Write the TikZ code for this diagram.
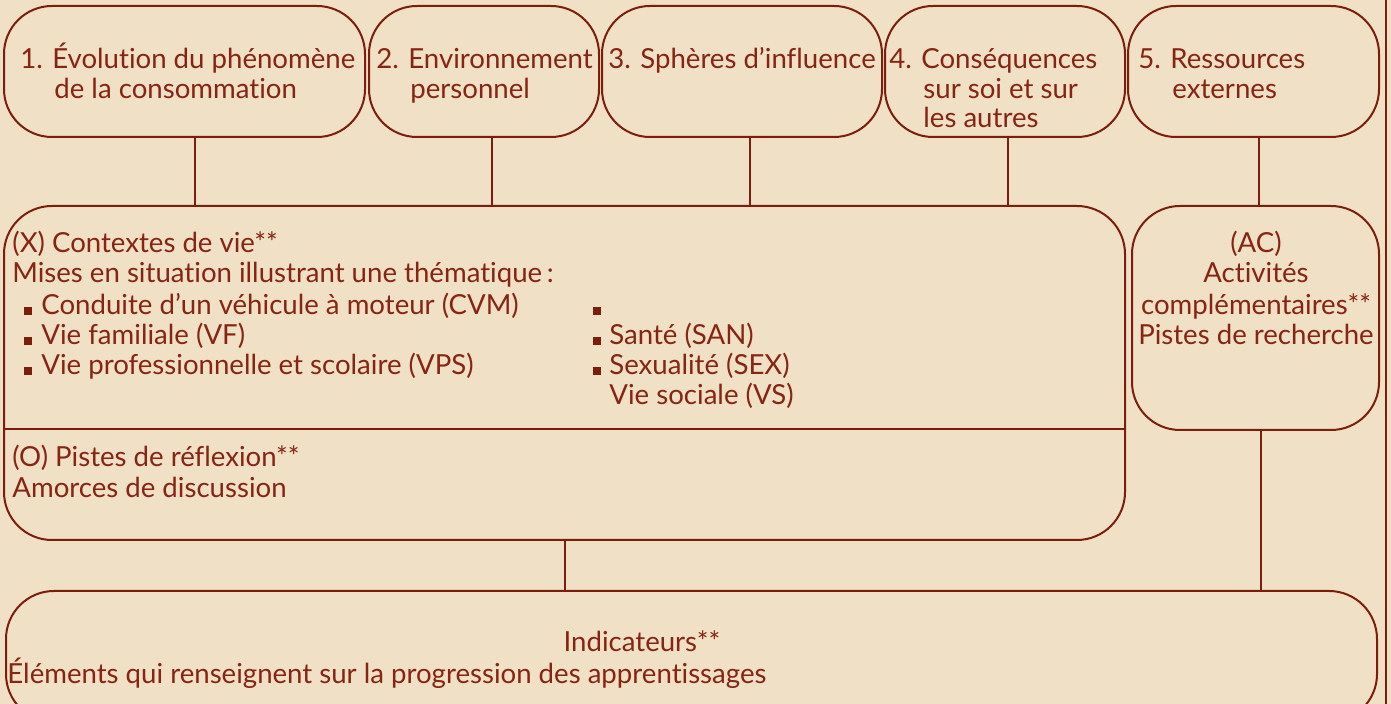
\documentclass[tikz,border=0pt]{standalone}
\usepackage{fontspec}
\setmainfont{Lato}[Ligatures={NoCommon}]
\usetikzlibrary{fit}
\definecolor{bgc}{RGB}{239,224,198}
\definecolor{ink}{RGB}{125,30,12}
\definecolor{txt}{RGB}{135,36,18}
\tikzset{
  box/.style={draw=ink, line width=1pt, rounded corners=24pt, inner sep=0pt},
  conn/.style={draw=ink, line width=1pt},
  lbl/.style={anchor=base west, inner sep=0pt, text=txt, font=\fontsize{13.8}{16}\selectfont},
  clbl/.style={anchor=base, inner sep=0pt, text=txt, font=\fontsize{13.8}{16}\selectfont},
  bul/.style={fill=ink, draw=none}
}
\begin{document}
\begin{tikzpicture}[x=0.5pt,y=-0.5pt]
\useasboundingbox (0,0) rectangle (1391,704);
\fill[bgc] (0,0) rectangle (1391,704);
\clip (0,0) rectangle (1391,704);
\draw[ink, line width=0.8pt] (1386,0) -- (1386,704);
% top boxes
\node[box, fit={(4,6) (365,137)}] (t1) {};
\node[box, fit={(369,6) (599,137)}] (t2) {};
\node[box, fit={(602,6) (882,137)}] (t3) {};
\node[box, fit={(885,6) (1125,137)}] (t4) {};
\node[box, fit={(1128,6) (1379,137)}] (t5) {};
% middle boxes
\node[box, fit={(4,206) (1125,540)}] (ctx) {};
\node[box, fit={(1132,206) (1379,430)}] (ac) {};
% bottom box
\node[box, fit={(6,591) (1377,722)}] (ind) {};
% divider
\coordinate (dl) at (4,429);
\coordinate (dr) at (1125,429);
\draw[conn] (ctx.west |- dl) -- (ctx.east |- dr);
% connectors
\draw[conn] ([xshift=5.25pt]t1.south) -- ([xshift=5.25pt]t1.south |- ctx.north);
\draw[conn] ([xshift=4pt]t2.south) -- ([xshift=4pt]t2.south |- ctx.north);
\draw[conn] ([xshift=4pt]t3.south) -- ([xshift=4pt]t3.south |- ctx.north);
\draw[conn] ([xshift=1.25pt]t4.south) -- ([xshift=1.25pt]t4.south |- ctx.north);
\draw[conn] ([xshift=2.75pt]t5.south) -- ([xshift=2.75pt]t5.south |- ac.north);
\draw[conn] (ctx.south) -- (ctx.south |- ind.north);
\draw[conn] ([xshift=2.5pt]ac.south) -- ([xshift=2.5pt]ac.south |- ind.north);
% top texts
\node[lbl] (t1a) at (20,69) {1. Évolution du phénomène};
\node[lbl] (t1b) at (54,99) {de la consommation};
\node[lbl] (t2a) at (376,69) {2. Environnement};
\node[lbl] (t2b) at (410,99) {personnel};
\node[lbl] (t3a) at (608,69) {3. Sphères d’influence};
\node[lbl] (t4a) at (889,69) {4. Conséquences};
\node[lbl] (t4b) at (923,99) {sur soi et sur};
\node[lbl] (t4c) at (923,128) {les autres};
\node[lbl] (t5a) at (1138,69) {5. Ressources};
\node[lbl] (t5b) at (1172,99) {externes};
% context texts
\node[lbl] (x1) at (12,253) {(X) Contextes de vie**};
\node[lbl] (x2) at (12,283) {Mises en situation illustrant une thématique\,:};
\node[lbl] (x3) at (41,315) {Conduite d’un véhicule à moteur (CVM)};
\node[lbl] (x4) at (41,345) {Vie familiale (VF)};
\node[lbl] (x5) at (41,375) {Vie professionnelle et scolaire (VPS)};
\node[lbl] (y2) at (609,345) {Santé (SAN)};
\node[lbl] (y3) at (609,375) {Sexualité (SEX)};
\node[lbl] (y4) at (609,405) {Vie sociale (VS)};
\fill[bul] (24,307) rectangle (32,315);
\fill[bul] (24,337) rectangle (32,345);
\fill[bul] (24,367) rectangle (32,375);
\fill[bul] (593,307) rectangle (601,315);
\fill[bul] (593,337) rectangle (601,345);
\fill[bul] (593,367) rectangle (601,375);
\node[lbl] (o1) at (12,467) {(O) Pistes de réflexion**};
\node[lbl] (o2) at (12,498) {Amorces de discussion};
% AC texts
\node[clbl] (a1) at (1256,253) {(AC)};
\node[clbl] (a2) at (1256,283) {Activités};
\node[clbl] (a3) at (1256,315) {complémentaires**};
\node[clbl] (a4) at (1256,345) {Pistes de recherche};
% bottom texts
\node[clbl] (i1) at (642,652) {Indicateurs**};
\node[lbl] (i2) at (7,683) {Éléments qui renseignent sur la progression des apprentissages};
\end{tikzpicture}
\end{document}
